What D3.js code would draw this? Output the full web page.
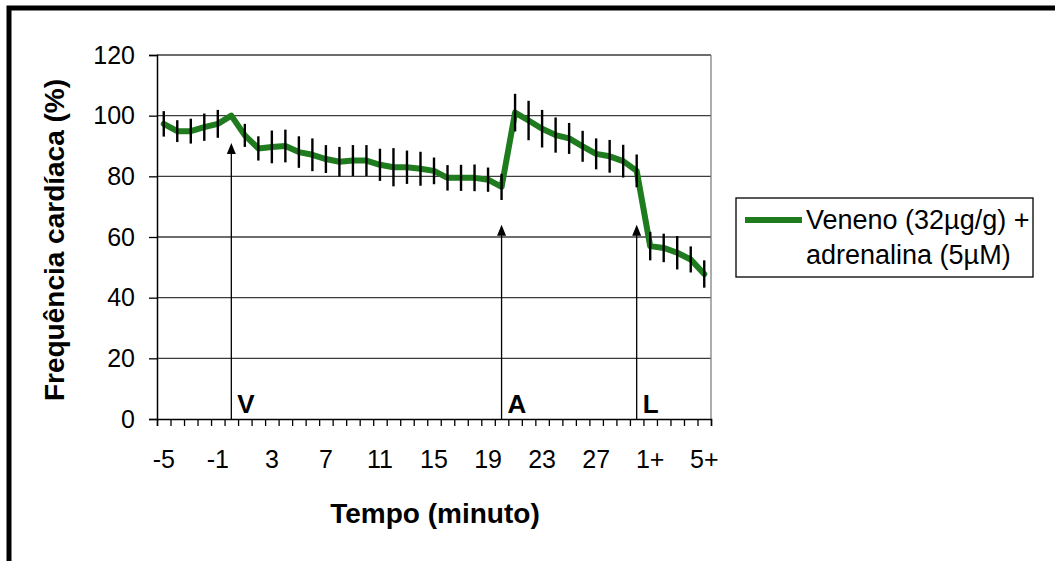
<!DOCTYPE html>
<html>
<head>
<meta charset="utf-8">
<script src="https://cdn.jsdelivr.net/npm/d3@7"></script>
<style>
  html, body { margin: 0; padding: 0; background: #fff; }
  svg { display: block; font-family: "Liberation Sans", Arial, sans-serif; }
</style>
</head>
<body>
<svg id="chart" width="1055" height="561"></svg>
<script>
// ---- data ----
const categories = ["-5","-4","-3","-2","-1","0",
  "1","2","3","4","5","6","7","8","9","10","11","12","13","14","15",
  "16","17","18","19","20","21","22","23","24","25","26","27","28","29","30",
  "1+","2+","3+","4+","5+"];
const values = [97.3, 94.9, 94.9, 96.2, 97.3, 100,
  93.5, 89.2, 89.7, 90.0, 88.0, 87.1, 85.7, 84.8, 85.2, 85.2,
  83.8, 83.0, 83.0, 82.5, 81.8, 79.5, 79.5, 79.5, 78.9, 76.5,
  101.0, 98.4, 95.7, 93.6, 92.5, 89.9, 87.4, 86.6, 85.0, 81.8,
  57.0, 56.4, 54.8, 52.6, 47.8];
const sem = [4.2, 3.6, 4.1, 4.5, 4.6, 0,
  3.8, 4.0, 5.4, 5.4, 5.2, 5.4, 4.6, 4.9, 5.1, 5.1,
  5.3, 6.3, 5.5, 5.6, 4.4, 4.2, 4.3, 4.4, 4.0, 4.3,
  6.2, 6.5, 6.2, 5.8, 5.1, 5.1, 5.1, 5.4, 5.4, 5.4,
  4.7, 4.7, 5.5, 4.3, 4.5];
const xTickLabels = ["-5","-1","3","7","11","15","19","23","27","1+","5+"];
const yTicks = [0, 20, 40, 60, 80, 100, 120];
const markers = ["V", "A", "L"];
const markerCats = ["0", "20", "30"];
const markerTips = [91, 64, 64];
const seriesName = ["Veneno (32µg/g) +", "adrenalina (5µM)"];
const xTitle = "Tempo (minuto)";
const yTitle = "Frequência cardíaca (%)";

// ---- layout ----
const svg = d3.select("#chart");
const plot = { left: 157, right: 711, top: 55, bottom: 419 };
const green = "#1e7b1e";

const x = d3.scaleBand().domain(categories).range([plot.left, plot.right]).paddingInner(0).paddingOuter(0);
const xc = d => x(d) + x.bandwidth() / 2;
const y = d3.scaleLinear().domain([0, 120]).range([plot.bottom, plot.top]);

// outer frame (left and top edges visible)
svg.append("path")
  .attr("d", `M9,561 L9,8 L1060,8`)
  .attr("fill", "none").attr("stroke", "#000").attr("stroke-width", 5);

// gridlines
svg.append("g").selectAll("line").data(yTicks.filter(t => t > 0)).join("line")
  .attr("x1", plot.left).attr("x2", plot.right)
  .attr("y1", d => y(d)).attr("y2", d => y(d))
  .attr("stroke", "#3c3c3c").attr("stroke-width", 1.3);
// right border of plot area
svg.append("line").attr("x1", plot.right).attr("x2", plot.right)
  .attr("y1", plot.top).attr("y2", plot.bottom)
  .attr("stroke", "#808080").attr("stroke-width", 1.3);

// y axis
const yAxis = d3.axisLeft(y).tickValues(yTicks).tickSize(8).tickPadding(14);
const gy = svg.append("g").attr("transform", `translate(${plot.left},0)`).call(yAxis);
gy.select(".domain").attr("stroke", "#000").attr("stroke-width", 1.5);
gy.selectAll(".tick line").attr("stroke", "#000").attr("stroke-width", 1.3);
gy.selectAll(".tick text").attr("font-size", 25).attr("fill", "#000")
  .attr("font-family", "Liberation Sans, Arial, sans-serif");

// x axis: tick marks at category boundaries
const xi = d3.scaleLinear().domain([0, categories.length]).range([plot.left, plot.right]);
const xAxisTicks = d3.axisBottom(xi).tickValues(d3.range(0, categories.length + 1)).tickSize(7).tickFormat("");
const gx = svg.append("g").attr("transform", `translate(0,${plot.bottom})`).call(xAxisTicks);
gx.select(".domain").attr("stroke", "#000").attr("stroke-width", 1.5);
gx.selectAll(".tick line").attr("stroke", "#000").attr("stroke-width", 1.3);
// x labels
const xAxisLabels = d3.axisBottom(x).tickValues(xTickLabels).tickSize(0).tickPadding(31);
const gxl = svg.append("g").attr("transform", `translate(0,${plot.bottom})`).call(xAxisLabels);
gxl.select(".domain").remove();
gxl.selectAll(".tick text").attr("font-size", 25).attr("fill", "#000")
  .attr("font-family", "Liberation Sans, Arial, sans-serif");

// marker arrows
const mk = svg.append("g");
markers.forEach((m, i) => {
  const cx = xc(markerCats[i]);
  const ty = y(markerTips[i]);
  mk.append("line").attr("x1", cx).attr("x2", cx).attr("y1", plot.bottom).attr("y2", ty + 8)
    .attr("stroke", "#000").attr("stroke-width", 1.3);
  mk.append("path").attr("d", `M${cx},${ty} L${cx - 4.5},${ty + 11} L${cx + 4.5},${ty + 11} Z`).attr("fill", "#000");
  mk.append("text").attr("x", cx + 6).attr("y", plot.bottom - 6)
    .attr("font-size", 26).attr("font-weight", "bold").text(m);
});

// line
const line = d3.line().x((d, i) => xc(categories[i])).y(d => y(d));
svg.append("path").datum(values).attr("d", line)
  .attr("fill", "none").attr("stroke", green).attr("stroke-width", 6)
  .attr("stroke-linejoin", "round").attr("stroke-linecap", "round");

// error bars
svg.append("g").selectAll("line").data(values.map((v, i) => ({ c: categories[i], v, e: sem[i] })).filter(d => d.e > 0))
  .join("line")
  .attr("x1", d => xc(d.c)).attr("x2", d => xc(d.c))
  .attr("y1", d => y(d.v + d.e)).attr("y2", d => y(d.v - d.e))
  .attr("stroke", "#000").attr("stroke-width", 2.4);

// axis titles
svg.append("text").attr("x", 435).attr("y", 523).attr("text-anchor", "middle")
  .attr("font-size", 28).attr("font-weight", "bold").text(xTitle);
svg.append("text").attr("transform", "translate(64,240) rotate(-90)").attr("text-anchor", "middle")
  .attr("font-size", 28).attr("font-weight", "bold").text(yTitle);

// legend
const lg = svg.append("g");
lg.append("rect").attr("x", 736).attr("y", 198).attr("width", 297).attr("height", 79)
  .attr("fill", "#fff").attr("stroke", "#000").attr("stroke-width", 1.3);
lg.append("line").attr("x1", 745).attr("x2", 802).attr("y1", 220).attr("y2", 220)
  .attr("stroke", green).attr("stroke-width", 6);
lg.selectAll("text.lt").data(seriesName).join("text").attr("class", "lt")
  .attr("x", 806).attr("y", (d, i) => 229 + i * 35)
  .attr("font-size", 27).text(d => d);
</script>
</body>
</html>
